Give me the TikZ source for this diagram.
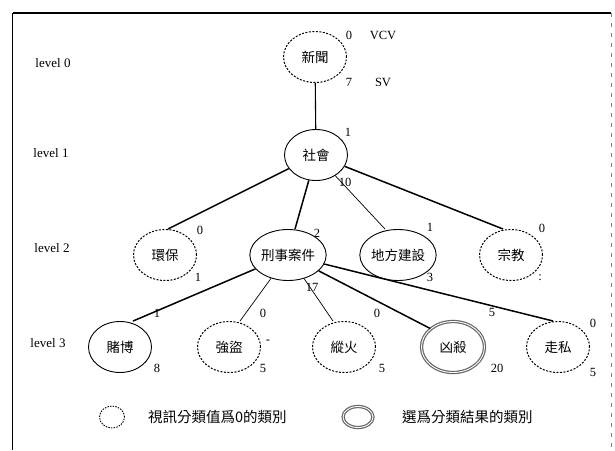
\documentclass[tikz,border=0pt]{standalone}
\usepackage{fontspec}
\setmainfont{Liberation Serif}
\newfontfamily\cjk{Noto Sans CJK TC}
\usetikzlibrary{shapes.geometric}

\begin{document}
\begin{tikzpicture}[x=1pt,y=-1pt,
  cat/.style={draw,ellipse,minimum width=63pt,minimum height=51pt,inner sep=0pt,line width=0.9pt,font=\cjk\fontsize{13.5}{13.5}\selectfont},
  catz/.style={cat,dash pattern=on 2pt off 1.5pt,line width=1pt},
  catsel/.style={cat,draw=gray!80!black,double=white,double distance=0.9pt,line width=1.2pt},
  num/.style={font=\fontsize{12.5}{12.5}\selectfont,inner sep=0pt},
  lev/.style={font=\fontsize{13}{13}\selectfont,inner sep=0pt},
  leg/.style={font=\cjk\fontsize{14.5}{14.5}\selectfont,inner sep=0pt,anchor=west},
  thinedge/.style={line width=0.7pt},
  thickedge/.style={line width=1.5pt}]
         \useasboundingbox (0,0) rectangle (615,450);
         % frame
         \draw[line width=1.3pt] (13,13) -- (611,13);
         \draw[line width=0.8pt] (12,13) -- (12,450);
         \draw[line width=0.6pt,dash pattern=on 4pt off 6pt,gray] (611,13) -- (611,450);

         % levels
         \node[lev](L0) at (53,63) {level 0};
         \node[lev](L1) at (51,153) {level 1};
         \node[lev](L2) at (52,248) {level 2};
         \node[lev](L3) at (48,343) {level 3};

         % tree
         \node[catz](N) at (315,57) {新聞};
         \node[cat](S) at (316,155) {社會};
         \node[catz](E) at (165,255) {環保};
         \node[cat](C) at (288,255) {刑事案件};
         \node[cat](B) at (398,255) {地方建設};
         \node[catz](R) at (511,255) {宗教};
         \node[cat](G) at (120,347) {賭博};
         \node[catz](Q) at (229,347) {強盜};
         \node[catz](F) at (344,347) {縱火};
         \node[catsel](K) at (453,347) {凶殺};
         \node[catz](M) at (558,347) {走私};

         \draw[line width=1.1pt](N) -- (S);
         \draw[thickedge](S) -- ([xshift=3pt]E.north);
         \draw[thickedge](S) -- ([xshift=7pt]C.north);
         \draw[thinedge](S) -- ([xshift=-13pt]B.north);
         \draw[thickedge](S) -- ([xshift=-8pt]R.north);
         \draw[thickedge](C) -- ([xshift=13pt]G.north);
         \draw[thinedge](C) -- ([xshift=11pt]Q.north);
         \draw[thinedge](C) -- ([xshift=-11pt]F.north);
         \draw[thickedge](C) -- (K.north west);
         \draw[thickedge](C) -- ([xshift=-5pt]M.north);

         % VCV / SV values
         \node[num] at (349,35) {0};
         \node[num] at (349,82) {7};
         \node[num](VCV) at (383,35) {VCV};
         \node[num](SV) at (383,82) {SV};
         \node[num] at (348,132) {1};
         \node[num] at (345,182) {10};
         \node[num] at (200,230) {0};
         \node[num] at (198,277) {1};
         \node[num] at (317,233) {2};
         \node[num] at (312,287) {17};
         \node[num] at (430,227) {1};
         \node[num] at (430,277) {3};
         \node[num] at (542,228) {0};
         \node[num] at (540,278) {:};
         \node[num] at (157,313) {1};
         \node[num] at (157,368) {8};
         \node[num] at (263,313) {0};
         \node[num] at (268,342) {-};
         \node[num] at (263,368) {5};
         \node[num] at (377,313) {0};
         \node[num] at (382,368) {5};
         \node[num] at (492,312) {5};
         \node[num] at (497,368) {20};
         \node[num] at (593,323) {0};
         \node[num] at (593,372) {5};

         % legend
         \node[draw,ellipse,minimum width=25pt,minimum height=22pt,inner sep=0pt,dash pattern=on 1.5pt off 1.2pt,line width=0.9pt](LZ) at (112,417) {};
         \node[leg](LZT) at (148,417) {視訊分類值爲0的類別};
         \node[draw=gray!80!black,ellipse,minimum width=30pt,minimum height=21pt,inner sep=0pt,double=white,double distance=0.9pt,line width=1.2pt](LS) at (358,417) {};
         \node[leg](LST) at (402,417) {選爲分類結果的類別};
\end{tikzpicture}
\end{document}
